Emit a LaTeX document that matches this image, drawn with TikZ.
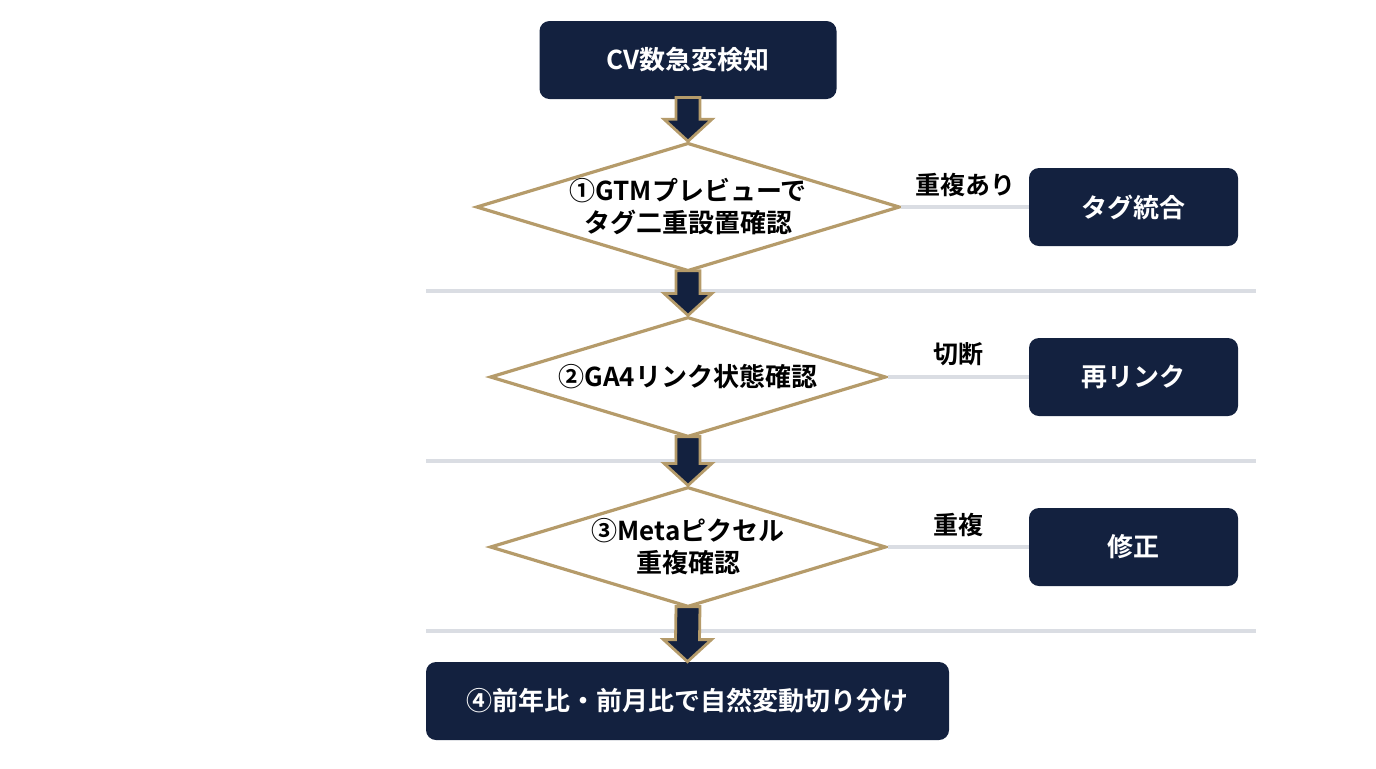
\documentclass[tikz,border=0pt]{standalone}
\usepackage{fontspec}
\setmainfont{Noto Sans CJK JP}[BoldFont={* Bold}]
\usetikzlibrary{positioning,calc,shapes.geometric}
\definecolor{navy}{HTML}{13213F}
\definecolor{gold}{HTML}{B59B6A}
\definecolor{rule}{HTML}{DADDE3}
\tikzset{
        % navy boxes
        box/.style={rectangle, rounded corners=5pt, fill=navy, text=white, font=\bfseries\fontsize{13}{15}\selectfont, align=center, inner sep=0pt},
        % decisions
        check/.style={diamond, draw=gold, line width=1.6pt, fill=white, aspect=3.3, minimum width=198pt, minimum height=60pt, inner sep=0pt, font=\bfseries\fontsize{13}{16}\selectfont, align=center},
        % side branches
        branch/.style={rule, line width=2pt},
        branchlabel/.style={text=black, font=\bfseries\fontsize{12.5}{14}\selectfont, above=1pt},
        % big arrows
        blockarrow/.style={fill=navy, draw=gold, line width=1.4pt, line join=miter}
}
\newcommand\blockarr[2]{%
  \path[blockarrow] ($(#1.south)+(-12,-2)$) -- ($(#2.north)+(-12,-22)$) -- ($(#2.north)+(-24,-22)$)
    -- (#2.north) -- ($(#2.north)+(24,-22)$) -- ($(#2.north)+(12,-22)$) -- ($(#1.south)+(12,-2)$) -- cycle;}
\begin{document}
\begin{tikzpicture}[x=0.5pt, y=-0.5pt]
  \useasboundingbox (0,0) rectangle (1376,768);
  % separators
  \foreach \y in {291,461,631}
    \draw[rule, line width=2pt] (426,\y) -- (1256,\y);

  \node[box, minimum width=148.5pt, minimum height=39pt] (detect) at (688,60) {CV数急変検知};
  \node[check] (gtm) at (688,207) {①GTMプレビューで\\タグ二重設置確認};
  \node[check] (ga4) at (688,377) {②GA4リンク状態確認};
  \node[check] (meta) at (688,547) {③Metaピクセル\\重複確認};
  \node[box, minimum width=261.5pt, minimum height=39pt] (yoy) at (687.5,701) {④前年比・前月比で自然変動切り分け};

  \node[box, minimum width=104.5pt, minimum height=39pt] (merge) at (1133.5,207) {タグ統合};
  \node[box, minimum width=104.5pt, minimum height=39pt] (relink) at (1133.5,377) {再リンク};
  \node[box, minimum width=104.5pt, minimum height=39pt] (fix) at (1133.5,547) {修正};

  \draw[branch] (gtm.east) -- node[branchlabel] {重複あり} (merge.west);
  \draw[branch] (ga4.east) -- node[branchlabel] {切断} (relink.west);
  \draw[branch] (meta.east) -- node[branchlabel] {重複} (fix.west);

  \blockarr{detect}{gtm}
  \blockarr{gtm}{ga4}
  \blockarr{ga4}{meta}
  \blockarr{meta}{yoy}
\end{tikzpicture}
\end{document}
